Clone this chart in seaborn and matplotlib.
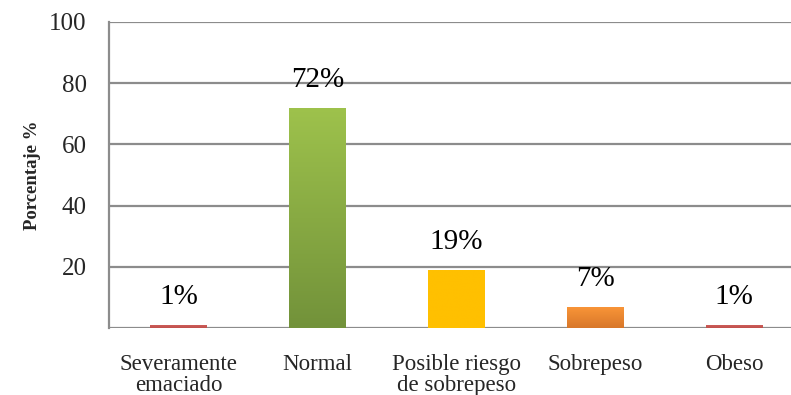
import numpy as np
import pandas as pd
import matplotlib
matplotlib.use("Agg")
import matplotlib.pyplot as plt
import seaborn as sns
from matplotlib.colors import LinearSegmentedColormap

categories = ["Severamente\nemaciado", "Normal", "Posible riesgo\nde sobrepeso", "Sobrepeso", "Obeso"]
values = [1, 72, 19, 7, 1]
labels = ["1%", "72%", "19%", "7%", "1%"]
top_colors = ["#D0605C", "#9EC24C", "#FFC000", "#FA9638", "#D0605C"]
bottom_colors = ["#C0504D", "#72923A", "#FFC000", "#D8772A", "#C0504D"]
yticks = [20, 40, 60, 80, 100]

sns.set_theme(style="white")
plt.rcParams["font.family"] = ["Liberation Serif", "DejaVu Serif"]

df = pd.DataFrame({"cat": categories, "val": values})

fig = plt.figure(figsize=(7.91, 3.95), dpi=100)
ax = fig.add_axes([109 / 791, 1 - 328 / 395, (803.5 - 109) / 791, (328 - 22) / 395])

sns.barplot(data=df, x="cat", y="val", hue="cat", palette=top_colors,
            legend=False, width=0.41, ax=ax, saturation=1, zorder=3)

# vertical gradient fill inside each bar
for patch, c_top, c_bot in zip(ax.patches, top_colors, bottom_colors):
    x0, y0 = patch.get_x(), patch.get_y()
    w, h = patch.get_width(), patch.get_height()
    cmap = LinearSegmentedColormap.from_list("g", [c_bot, c_top])
    grad = np.linspace(0, 1, 256).reshape(-1, 1)
    im = ax.imshow(grad, cmap=cmap, aspect="auto", origin="lower",
                   extent=[x0, x0 + w, y0, y0 + h], zorder=4)
    im.set_clip_path(patch)
    patch.set_edgecolor("none")

ax.set_xlim(-0.5, 4.5)
ax.set_ylim(0, 100)
ax.set_yticks(yticks)
ax.set_yticklabels([str(t) for t in yticks], fontsize=18)
for t in ax.get_xticklabels():
    t.set_linespacing(1.0)
ax.tick_params(axis="x", labelsize=16.5, pad=19, length=0)
ax.tick_params(axis="y", length=0, pad=16)

for y in [0] + yticks:
    ax.axhline(y, color="#8C8C8C", lw=1.6, zorder=2)

for i, (v, lab) in enumerate(zip(values, labels)):
    ax.annotate(lab, (i, v), xytext=(0, 20), textcoords="offset points",
                ha="center", va="center", fontsize=21, color="black", zorder=5)

ax.set_xlabel("")
ax.set_ylabel("Porcentaje %", fontsize=13.5, fontweight="bold", labelpad=6)

for s in ["top", "right", "bottom"]:
    ax.spines[s].set_visible(False)
ax.spines["left"].set_color("#8C8C8C")
ax.spines["left"].set_linewidth(1.6)
ax.grid(False)

fig.savefig("out.png", dpi=100)
